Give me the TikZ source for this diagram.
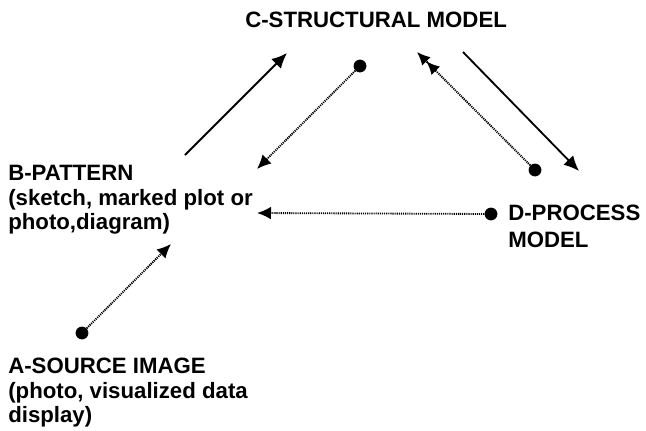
\documentclass[tikz,border=0pt]{standalone}
\usepackage{fontspec}
\setmainfont{Liberation Sans}
\usetikzlibrary{arrows.meta}

\tikzset{
  lbl/.style={anchor=north west, inner sep=0, align=left, font=\bfseries\fontsize{15.8}{17.4}\selectfont},
  dot/.style={circle, fill, inner sep=0, minimum size=3.2mm},
  solidarr/.style={line width=1.3pt, -{Latex[length=3.8mm, width=3.4mm]}},
  dotarr/.style={line width=1.3pt, dash pattern=on 0.8pt off 0.7pt, -{Latex[length=3.5mm, width=3.2mm]}},
}

\begin{document}
\begin{tikzpicture}[x=0.025cm, y=-0.025cm]
  \useasboundingbox (0,0) rectangle (646,430);
  % labels
  \node[lbl] (C) at (245,12) {C-STRUCTURAL MODEL};
  \node[lbl] (B) at (8,165) {B-PATTERN\\(sketch, marked plot or\\photo,diagram)};
  \node[lbl, font=\bfseries\fontsize{15.8}{19}\selectfont] (D) at (508,205) {D-PROCESS\\MODEL};
  \node[lbl] (A) at (8,358) {A-SOURCE IMAGE\\(photo, visualized data\\display)};
  % dots
  \node[dot] (Cd) at (360,66) {};
  \node[dot] (Du) at (535,170) {};
  \node[dot] (Dl) at (491,214) {};
  \node[dot] (Ad) at (82,333) {};
  % arrow ends
  \coordinate (b1) at (185,155);
  \coordinate (c1) at (287,53);
  \coordinate (b2) at (257,169);
  \coordinate (c2) at (417,52);
  \coordinate (c3) at (463,52);
  \coordinate (d3) at (579,171);
  \coordinate (b4) at (257,213);
  \coordinate (b5) at (171,244);
  % arrows
  \draw[solidarr] (b1) -- (c1);
  \draw[dotarr] (Cd) -- (b2);
  \draw[dotarr, -{Latex[length=3.3mm, width=3mm]Latex[length=3.3mm, width=3mm]}] (Du) -- (c2);
  \draw[solidarr] (c3) -- (d3);
  \draw[dotarr] (Dl) -- (b4);
  \draw[dotarr] (Ad) -- (b5);
\end{tikzpicture}
\end{document}
